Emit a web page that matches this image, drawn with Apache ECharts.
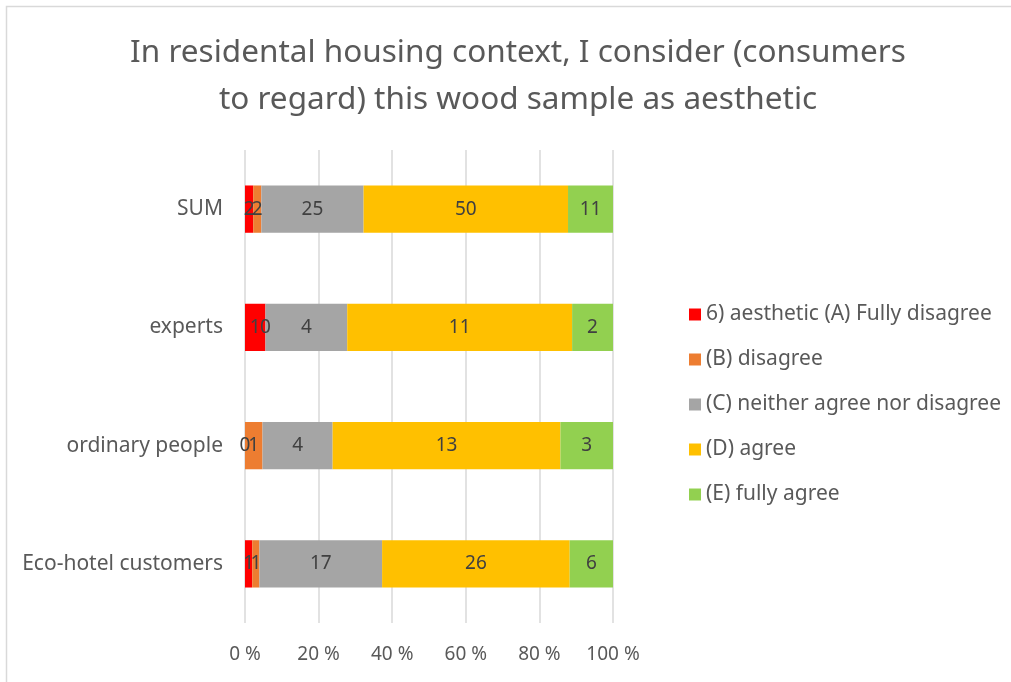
<!DOCTYPE html>
<html>
<head>
    <meta charset="utf-8">
    <title>Wood sample aesthetic</title>
    <script src="https://cdn.jsdelivr.net/npm/echarts@6/dist/echarts.min.js"></script>
    <style>
        html, body { margin: 0; padding: 0; background: #fff; }
    </style>
</head>
<body>
    <div id="main" style="width:1011px; height:682px"></div>
    <script type="text/javascript">
        var categories = ['Eco-hotel customers', 'ordinary people', 'experts', 'SUM'];
        var seriesNames = ['6) aesthetic (A) Fully disagree', '(B) disagree', '(C) neither agree nor disagree', '(D) agree', '(E) fully agree'];
        var colors = ['#ff0000', '#ed7d31', '#a5a5a5', '#ffc000', '#92d050'];
        var fullyDisagree = [1, 0, 1, 2];
        var disagree = [1, 1, 0, 2];
        var neither = [17, 4, 4, 25];
        var agree = [26, 13, 11, 50];
        var fullyAgree = [6, 3, 2, 11];
        var xTicks = [0, 20, 40, 60, 80, 100];

        var counts = [fullyDisagree, disagree, neither, agree, fullyAgree];
        var totals = categories.map(function (c, i) {
            return counts.reduce(function (s, arr) { return s + arr[i]; }, 0);
        });

        var myChart = echarts.init(document.getElementById('main'));
        var font = '"Noto Sans", sans-serif';

        var series = counts.map(function (arr, k) {
            return {
                name: seriesNames[k],
                type: 'bar',
                stack: 'all',
                barWidth: '40%',
                itemStyle: { color: colors[k] },
                label: {
                    show: true,
                    position: 'inside',
                    color: '#404040',
                    fontSize: 19,
                    fontFamily: font,
                    formatter: function (p) { return arr[p.dataIndex]; }
                },
                data: arr.map(function (v, i) { return v / totals[i] * 100; })
            };
        });

option = {
    animation: false,
    textStyle: { fontFamily: font },
    title: {
        text: 'In residental housing context, I consider (consumers\nto regard) this wood sample as aesthetic',
        left: 513,
        textAlign: 'center',
        top: 25,
        textStyle: {
            fontSize: 31.5,
            fontWeight: 'normal',
            color: '#595959',
            lineHeight: 47,
            fontFamily: font
        }
    },
    legend: {
        orient: 'vertical',
        left: 684,
        top: 299,
        itemWidth: 12,
        itemHeight: 12,
        itemGap: 24,
        icon: 'rect',
        textStyle: { fontSize: 21, color: '#595959', fontFamily: font },
        data: seriesNames
    },
    grid: {
        left: 245,
        right: 398,
        top: 150,
        bottom: 59,
        containLabel: false
    },
    xAxis: {
        type: 'value',
        min: 0,
        max: 100,
        interval: 20,
        axisLine: { show: false },
        axisTick: { show: false },
        splitLine: { show: true, lineStyle: { color: '#d9d9d9', width: 1.5 } },
        axisLabel: {
            fontSize: 19,
            color: '#595959',
            margin: 22,
            formatter: function (v) { return xTicks.indexOf(v) >= 0 ? v + ' %' : ''; }
        }
    },
    yAxis: {
        type: 'category',
        data: categories,
        axisLine: { show: false },
        axisTick: { show: false },
        axisLabel: { fontSize: 21, color: '#595959', margin: 22 }
    },
    graphic: [{
        type: 'rect',
        shape: { x: 6.5, y: 6.5, width: 1100, height: 800 },
        style: { fill: 'none', stroke: '#d9d9d9', lineWidth: 1.5 },
        silent: true
    }],
    series: series
};

        myChart.setOption(option);
    </script>
</body>
</html>
